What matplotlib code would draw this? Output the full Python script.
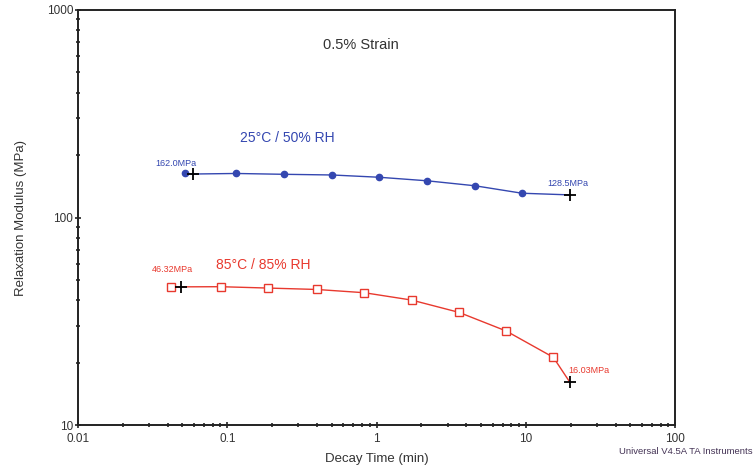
import matplotlib

matplotlib.use("Agg")
import matplotlib.pyplot as plt
from matplotlib.ticker import LogLocator, NullFormatter, FixedLocator, FixedFormatter

plt.rcParams["font.family"] = ["Liberation Sans", "DejaVu Sans"]

# 25 C / 50 % RH series (markers + end point)
blue_time = [0.0521, 0.0587, 0.1145, 0.240, 0.503, 1.04, 2.18, 4.57, 9.44, 19.8]
blue_mod = [163.0, 162.0, 163.0, 161.5, 160.3, 156.3, 150.3, 142.2, 130.9, 128.5]
blue_marker_idx = [0, 2, 3, 4, 5, 6, 7, 8]

# 85 C / 85 % RH series
red_time = [0.042, 0.0488, 0.0904, 0.188, 0.397, 0.829, 1.72, 3.57, 7.38, 15.3, 19.8]
red_mod = [46.4, 46.32, 46.4, 45.7, 45.0, 43.4, 40.0, 34.9, 28.4, 21.2, 16.03]
red_marker_idx = [0, 2, 3, 4, 5, 6, 7, 8, 9]

# start/end readouts
blue_marks = [(0.0587, 162.0, "162.0MPa"), (19.8, 128.5, "128.5MPa")]
red_marks = [(0.0488, 46.32, "46.32MPa"), (19.8, 16.03, "16.03MPa")]

x_ticks = [0.01, 0.1, 1, 10, 100]
x_tick_labels = ["0.01", "0.1", "1", "10", "100"]
y_ticks = [10, 100, 1000]
y_tick_labels = ["10", "100", "1000"]

BLUE = "#3447b0"
RED = "#e8392e"

fig = plt.figure(figsize=(7.54, 4.67), dpi=100)
ax = fig.add_axes([78 / 754, 1 - 425 / 467, (675 - 78) / 754, (425 - 10) / 467])
ax.set_xscale("log")
ax.set_yscale("log")
ax.set_xlim(0.01, 100)
ax.set_ylim(10, 1000)

ax.plot(blue_time, blue_mod, color=BLUE, lw=1.0, zorder=2)
ax.plot([blue_time[i] for i in blue_marker_idx], [blue_mod[i] for i in blue_marker_idx],
        "o", color=BLUE, ms=4.5, zorder=3)
ax.plot(red_time, red_mod, color=RED, lw=1.0, zorder=2)
ax.plot([red_time[i] for i in red_marker_idx], [red_mod[i] for i in red_marker_idx],
        "s", mfc="white", mec=RED, mew=1.0, ms=5.5, zorder=3)

for marks, color, offsets in [
    (blue_marks, BLUE, [(-27, 4), (-16, 5)]),
    (red_marks, RED, [(-21, 9), (-1, 5.5)]),
]:
    for (x, y, label), (dx, dy) in zip(marks, offsets):
        ax.plot(x, y, "+", color="black", ms=9, mew=1.3, zorder=4)
        ax.annotate(label, (x, y), xytext=(dx, dy), textcoords="offset points",
                    color=color, fontsize=6.5, ha="left", va="bottom")

ax.text(0.474, 0.916, "0.5% Strain", transform=ax.transAxes, fontsize=10.5,
        color="#333333", ha="center", va="center")
ax.text(0.35, 0.692, "25°C / 50% RH", transform=ax.transAxes, fontsize=10,
        color=BLUE, ha="center", va="center")
ax.text(0.31, 0.386, "85°C / 85% RH", transform=ax.transAxes, fontsize=10,
        color=RED, ha="center", va="center")

ax.xaxis.set_major_locator(FixedLocator(x_ticks))
ax.xaxis.set_major_formatter(FixedFormatter(x_tick_labels))
ax.yaxis.set_major_locator(FixedLocator(y_ticks))
ax.yaxis.set_major_formatter(FixedFormatter(y_tick_labels))
ax.xaxis.set_minor_locator(LogLocator(base=10, subs=range(2, 10)))
ax.yaxis.set_minor_locator(LogLocator(base=10, subs=range(2, 10)))
ax.xaxis.set_minor_formatter(NullFormatter())
ax.yaxis.set_minor_formatter(NullFormatter())
ax.tick_params(which="both", direction="inout", color="#222222", width=1.2,
               labelsize=8.5, labelcolor="#333333")
ax.tick_params(axis="y", pad=1)
ax.tick_params(axis="x", pad=3)
ax.tick_params(which="major", length=5)
ax.tick_params(which="minor", length=3.5)
for s in ax.spines.values():
    s.set_linewidth(1.4)
    s.set_color("#222222")

ax.set_xlabel("Decay Time (min)", fontsize=9.5, color="#333333", labelpad=6)
ax.set_ylabel("Relaxation Modulus (MPa)", fontsize=9.5, color="#333333", labelpad=14)

fig.text(0.998, 1 - 452 / 467, "Universal V4.5A TA Instruments",
         fontsize=6.8, color="#443355", ha="right", va="center")

fig.savefig("out.png", dpi=100)
